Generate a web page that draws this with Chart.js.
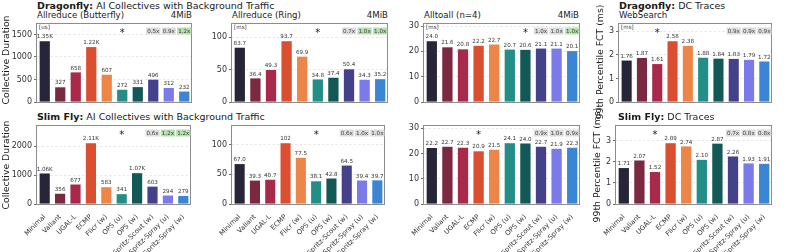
<!DOCTYPE html>
<html><head><meta charset="utf-8">
<script src="https://cdn.jsdelivr.net/npm/chart.js@4.4.1/dist/chart.umd.min.js"></script>
<style>
html,body{margin:0;padding:0;background:#fff;}
#root{position:relative;width:793px;height:252px;overflow:hidden;font-family:"DejaVu Sans",sans-serif;color:#1a1a1a;background:#fff;}
canvas{position:absolute;}
.t{position:absolute;white-space:nowrap;line-height:1;z-index:5;}
.ttl{font-size:9.5px;}
.sub{font-size:8.6px;}
.yl{font-size:9.3px;transform:translate(-50%,-50%) rotate(-90deg);}
</style></head><body><div id="root">
<div class="t ttl" style="left:37px;top:1px"><b>Dragonfly:</b> AI Collectives with Background Traffic</div>
<div class="t sub" style="left:37px;top:11px">Allreduce (Butterfly)</div>
<div class="t sub" style="left:168px;top:11px;width:24px;text-align:right">4MiB</div>
<div class="t sub" style="left:232px;top:11px">Allreduce (Ring)</div>
<div class="t sub" style="left:364px;top:11px;width:24px;text-align:right">4MiB</div>
<div class="t sub" style="left:424px;top:11px">Alltoall (n=4)</div>
<div class="t sub" style="left:555px;top:11px;width:24px;text-align:right">4MiB</div>
<div class="t ttl" style="left:619px;top:1px"><b>Dragonfly:</b> DC Traces</div>
<div class="t sub" style="left:619px;top:11px">WebSearch</div>
<div class="t ttl" style="left:37px;top:112px"><b>Slim Fly:</b> AI Collectives with Background Traffic</div>
<div class="t ttl" style="left:618px;top:112px"><b>Slim Fly:</b> DC Traces</div>
<div class="t yl" style="left:6px;top:60px">Collective Duration</div>
<div class="t yl" style="left:6px;top:165px">Collective Duration</div>
<div class="t yl" style="left:600px;top:62px">99th Percentile FCT (ms)</div>
<div class="t yl" style="left:597px;top:165px">99th Percentile FCT (ms)</div>
</div>
<script>
// ---------------- data ----------------
const categories = ["Minimal","Valiant","UGAL-L","ECMP","Flicr (w)","OPS (u)","OPS (w)","Spritz-Scout (w)","Spritz-Spray (u)","Spritz-Spray (w)"];
const barColors = ["#272638","#7b2941","#a8294a","#d94f30","#ee8548","#238e88","#125857","#45408a","#7c79e8","#3a86d4"];

const dfButterfly = [1350, 327, 658, 1220, 607, 272, 331, 496, 312, 232];
const dfRing      = [83.7, 36.4, 49.3, 93.7, 69.9, 34.8, 37.4, 50.4, 34.3, 35.2];
const dfAlltoall  = [24.0, 21.6, 20.8, 22.2, 22.7, 20.7, 20.6, 21.1, 21.1, 20.1];
const dfWebSearch = [1.76, 1.87, 1.61, 2.58, 2.38, 1.88, 1.84, 1.83, 1.79, 1.72];
const sfButterfly = [1060, 356, 677, 2110, 583, 341, 1070, 603, 294, 279];
const sfRing      = [67.0, 39.3, 40.7, 102, 77.5, 38.1, 42.8, 64.5, 39.4, 39.7];
const sfAlltoall  = [22.2, 22.7, 22.3, 20.9, 21.5, 24.1, 24.0, 22.7, 21.9, 22.3];
const sfWebSearch = [1.71, 2.07, 1.52, 2.89, 2.74, 2.10, 2.87, 2.26, 1.93, 1.91];

const starIndex = [5, 5, 6, 2, 5, 5, 3, 2];
const ratioLabels = [
  ["0.5x","0.9x","1.2x"], ["0.7x","1.0x","1.0x"], ["1.0x","1.0x","1.0x"], ["0.9x","0.9x","0.9x"],
  ["0.6x","1.2x","1.2x"], ["0.6x","1.0x","1.0x"], ["0.9x","1.0x","0.9x"], ["0.7x","0.8x","0.8x"]
];
const ratioGreen = [
  [0,0,1],[0,1,1],[0,0,1],[0,0,0],
  [0,1,1],[0,0,0],[0,0,0],[0,0,0]
];
const unitLabels = ["[us]","[ms]","[ms]","[ms]","","","",""];
const yTickValues = [
  [0,500,1000,1500], [0,50,100], [0,10,20,30], [0,1,2,3],
  [0,1000,2000], [0,50,100], [0,10,20,30], [0,1,2,3]
];

// ---------------- layout ----------------
const seriesList = [dfButterfly, dfRing, dfAlltoall, dfWebSearch, sfButterfly, sfRing, sfAlltoall, sfWebSearch];
const plotRects = [
  {l:37,t:23,r:192,b:102},{l:232,t:23,r:388,b:102},{l:424,t:23,r:580,b:102},{l:619,t:23,r:772,b:102},
  {l:37,t:125,r:191,b:204},{l:232,t:125,r:385,b:204},{l:424,t:125,r:580,b:204},{l:616,t:125,r:772,b:204}
];

function fmt(v){ return v >= 1000 ? (v/1000).toPrecision(3) + 'K' : v.toPrecision(3); }
const FONT = '"DejaVu Sans", sans-serif';

function makePanel(i){
  const pr = plotRects[i];
  const bottomRow = i >= 4;
  const cx = pr.l - 34, cy = pr.t - 3;
  const cw = pr.r + 3 - cx;
  const ch = bottomRow ? 252 - cy : pr.b + 2 - cy;
  const yW = pr.l - cx, xH = cy + ch - pr.b;
  const cv = document.createElement('canvas');
  cv.width = cw; cv.height = ch;
  cv.style.left = cx + 'px'; cv.style.top = cy + 'px';
  cv.style.width = cw + 'px'; cv.style.height = ch + 'px';
  document.getElementById('root').appendChild(cv);
  const values = seriesList[i];
  const ymax = Math.max(...values) * 1.3;

  const annot = {
    id: 'annot' + i,
    afterDatasetsDraw(chart){
      const ctx = chart.ctx, a = chart.chartArea, meta = chart.getDatasetMeta(0);
      ctx.save();
      ctx.strokeStyle = '#8c8c8c'; ctx.lineWidth = 1;
      ctx.strokeRect(Math.round(a.left) - 0.5, Math.round(a.top) + 0.5, Math.round(a.right - a.left), Math.round(a.bottom - a.top));
      ctx.font = '5.6px ' + FONT; ctx.fillStyle = '#333';
      ctx.textAlign = 'center'; ctx.textBaseline = 'bottom';
      meta.data.forEach((bar, k) => ctx.fillText(fmt(values[k]), bar.x, bar.y - 1.5));
      if (unitLabels[i]) {
        ctx.textAlign = 'left'; ctx.textBaseline = 'top'; ctx.fillStyle = '#444';
        ctx.fillText(unitLabels[i], a.left + 2, a.top + 1.5);
      }
      const sy = a.top + 8;
      ctx.font = '10px ' + FONT; ctx.fillStyle = '#222';
      ctx.textAlign = 'center'; ctx.textBaseline = 'middle';
      ctx.fillText('*', meta.data[starIndex[i]].x, sy + 2.5);
      ctx.font = '5.6px ' + FONT;
      for (let k = 0; k < 3; k++) {
        const bar = meta.data[7 + k];
        const txt = ratioLabels[i][k];
        const w = ctx.measureText(txt).width + 2;
        ctx.fillStyle = ratioGreen[i][k] ? '#b5dfae' : '#dcdcdc';
        ctx.fillRect(bar.x - w/2, sy - 3.5, w, 7);
        ctx.fillStyle = '#444';
        ctx.textAlign = 'center'; ctx.textBaseline = 'middle';
        ctx.fillText(txt, bar.x, sy + 0.3);
      }
      ctx.restore();
    }
  };

  new Chart(cv, {
    type: 'bar',
    data: { labels: categories, datasets: [{ data: values, backgroundColor: barColors,
      barPercentage: 0.66, categoryPercentage: 1.0, borderWidth: 0 }] },
    options: {
      responsive: false, animation: false, devicePixelRatio: 1,
      layout: { padding: { left: 0, top: pr.t - cy, right: cx + cw - pr.r, bottom: 0 } },
      plugins: { legend: { display: false }, tooltip: { enabled: false } },
      scales: {
        x: {
          grid: { display: false }, border: { display: false },
          ticks: { display: bottomRow, autoSkip: false, maxRotation: 45, minRotation: 45, padding: 1,
            color: '#333', font: { family: FONT, size: 6.8 } },
          afterFit(s){ s.height = xH; s.paddingLeft = 0; s.paddingRight = 0; }
        },
        y: {
          min: 0, max: ymax,
          grid: { color: '#e2e2e2', lineWidth: 0.8, tickColor: '#444', tickLength: 3, tickWidth: 0.8 },
          border: { display: false, dash: [2.5, 2] },
          ticks: { padding: 2, color: '#333', font: { family: FONT, size: 8 }, callback: v => String(v) },
          afterBuildTicks(s){ s.ticks = yTickValues[i].map(v => ({ value: v })); },
          afterFit(s){ s.width = yW; s.paddingTop = 0; s.paddingBottom = 0; }
        }
      }
    },
    plugins: [annot]
  });
}
for (let i = 0; i < 8; i++) makePanel(i);
</script>
</body></html>
